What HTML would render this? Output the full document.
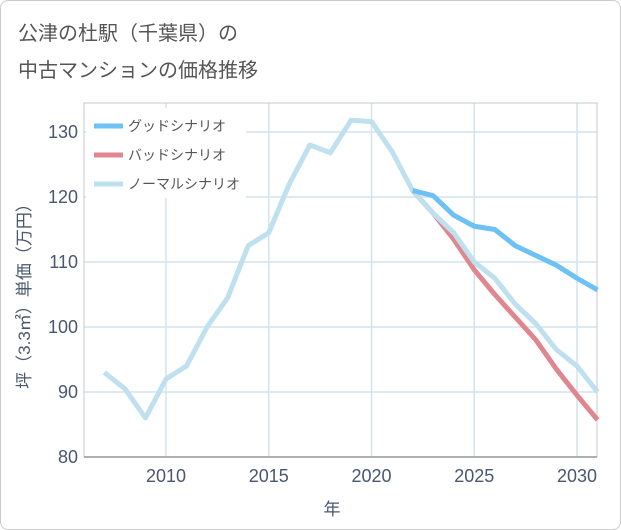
<!DOCTYPE html>
<html><head><meta charset="utf-8"><style>
body{margin:0;background:#fff;font-family:"Liberation Sans","Noto Sans CJK JP",sans-serif;}
#card{position:absolute;left:0;top:0;width:619px;height:528px;border:1px solid #ccc;border-radius:8px;background:#fff;}
#title{position:absolute;left:18px;top:16px;font-size:20px;line-height:37px;color:#555;}
svg{position:absolute;left:0;top:0;}
</style></head><body>
<div id="card"></div>
<div id="title">公津の杜駅（千葉県）の<br>中古マンションの価格推移</div>
<svg id="chart" width="621" height="530"></svg>
<script>
const years=[2007,2008,2009,2010,2011,2012,2013,2014,2015,2016,2017,2018,2019,2020,2021,2022,2023,2024,2025,2026,2027,2028,2029,2030,2031];
const normal=[93,90.5,86,92,94,100,104.5,112.5,114.5,122,128,126.8,131.8,131.6,127,121,117.5,114.5,110,107.5,103.5,100.5,96.5,94,90];
const goodYears=[2022,2023,2024,2025,2026,2027,2028,2029,2030,2031];
const good=[121,120.2,117.2,115.5,115,112.5,111,109.5,107.5,105.7];
const bad=[121,117.5,113.5,108.8,105,101.5,98,93.5,89.5,85.7];
const yTicks=[80,90,100,110,120,130];
const xTicks=[2010,2015,2020,2025,2030];
const L=84,R=597,T=103,B=457;
const x=v=>166+(v-2010)*20.55;
const y=v=>457-(v-80)*6.5;
const svg=document.getElementById('chart');
const NS='http://www.w3.org/2000/svg';
function mk(tag,attrs,parent){const e=document.createElementNS(NS,tag);for(const k in attrs)e.setAttribute(k,attrs[k]);(parent||svg).appendChild(e);return e;}
yTicks.forEach(t=>{
 const g=mk('line',{x1:L,x2:R,y1:y(t),y2:y(t),stroke:'#d3e3ee','stroke-width':1.5});
 
 
 const tx=mk('text',{x:78,y:y(t)+6,'text-anchor':'end','font-size':18,fill:'#4a5670'});
 tx.textContent=t;
 
 
});
xTicks.forEach(t=>{
 const g=mk('line',{x1:x(t),x2:x(t),y1:T,y2:B,stroke:'#d3e3ee','stroke-width':1.5});
 
 
 const tx=mk('text',{x:x(t),y:482,'text-anchor':'middle','font-size':18,fill:'#4a5670'});
 tx.textContent=t;
 
 
});
const frame=mk('path',{d:`M${L},${B}V${T}H${R}V${B}`,fill:'none',stroke:'#c8c8c8','stroke-width':1});


const ax=mk('line',{x1:L,x2:R,y1:B,y2:B,stroke:'#999','stroke-width':1.5});


function line(xs,vals,color,name){
 const p=mk('polyline',{points:vals.map((v,i)=>x(xs[i])+','+y(v)).join(' '),fill:'none',stroke:color,'stroke-width':5,'stroke-linejoin':'round'});
 
 
}
line(goodYears,bad,'#e0868f','bad-scenario-line');
line(years,normal,'#bfe0ee','normal-scenario-line');
line(goodYears,good,'#6ec1f5','good-scenario-line');
const lg=mk('rect',{x:86,y:108,width:160,height:90,fill:'#fff'});


[['グッドシナリオ','#6ec1f5',126],['バッドシナリオ','#e0868f',155],['ノーマルシナリオ','#bfe0ee',184]].forEach(([n,c,yy])=>{
 const s=mk('line',{x1:94,x2:123,y1:yy,y2:yy,stroke:c,'stroke-width':5});
 
 
 const t=mk('text',{x:128,y:yy+5,'font-size':14,fill:'#555'});
 t.textContent=n;
 
 
});
const xt=mk('text',{x:332,y:515,'text-anchor':'middle','font-size':17,fill:'#4a5670'});
xt.textContent='年';


const yt=mk('text',{x:0,y:0,'text-anchor':'middle','font-size':17,fill:'#4a5670',transform:'translate(30,292) rotate(-90)'});
yt.textContent='坪（3.3㎡）単価（万円）';


</script>
</body></html>
